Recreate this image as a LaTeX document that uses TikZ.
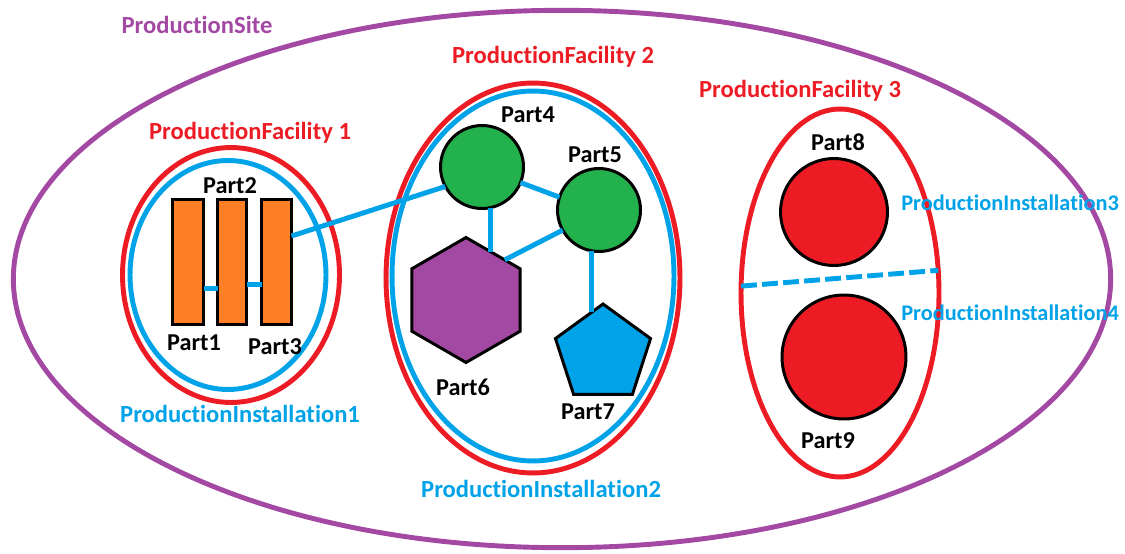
\documentclass[tikz,border=0pt]{standalone}
\usepackage{fontspec}
\setmainfont[Ligatures=NoCommon]{Carlito}
\usetikzlibrary{shapes.geometric,calc}
\definecolor{cpurple}{HTML}{A349A4}
\definecolor{cred}{HTML}{ED1C24}
\definecolor{cblue}{HTML}{00A2E8}
\definecolor{cgreen}{HTML}{22B14C}
\definecolor{corange}{HTML}{FF7F27}
\pgfdeclarelayer{bg}
\pgfsetlayers{bg,main}
\begin{document}
\begin{tikzpicture}[x=0.02cm,y=-0.02cm,
  zone/.style={ellipse, draw, line width=2.8pt, inner sep=0pt, outer sep=0pt},
  part/.style={draw=black, line width=1.7pt, inner sep=0pt, outer sep=0pt},
  conn/.style={draw=cblue, line width=2.8pt},
  lblbig/.style={font=\bfseries\fontsize{14}{16}\selectfont, inner sep=0pt},
  lblsmall/.style={font=\bfseries\fontsize{12.7}{15}\selectfont, inner sep=0pt},
  lblpart/.style={font=\bfseries\fontsize{13.8}{16}\selectfont, inner sep=0pt, text=black}]
\useasboundingbox (0,0) rectangle (1125,554);
\fill[white] (0,0) rectangle (1125,554);

% zones
\node[zone, draw=cpurple, minimum width=21.95cm, minimum height=10.75cm] (site) at (562,279) {};
\node[zone, draw=cred, minimum width=4.34cm, minimum height=5.1cm] (pf1) at (231,275) {};
\node[zone, draw=cblue, minimum width=3.92cm, minimum height=4.58cm] (pi1) at (228,275) {};
\node[zone, draw=cred, minimum width=5.88cm, minimum height=7.8cm] (pf2) at (533,278) {};
\node[zone, draw=cblue, minimum width=5.64cm, minimum height=7.4cm] (pi2) at (533,276) {};
\node[zone, draw=cred, minimum width=3.96cm, minimum height=7.36cm] (pf3) at (840,293) {};

% parts
\node[part, rectangle, fill=corange, minimum width=0.62cm, minimum height=2.5cm] (p1) at (188,262) {};
\node[part, rectangle, fill=corange, minimum width=0.58cm, minimum height=2.5cm] (p2) at (232,262) {};
\node[part, rectangle, fill=corange, minimum width=0.6cm, minimum height=2.5cm] (p3) at (276.5,262) {};
\node[part, circle, fill=cgreen, minimum size=1.66cm] (p4) at (482,167) {};
\node[part, circle, fill=cgreen, minimum size=1.66cm] (p5) at (599,210) {};
\node[part, regular polygon, regular polygon sides=6, regular polygon rotate=30, fill=cpurple, minimum size=2.5cm] (p6) at (466,300) {};
\node[part, regular polygon, regular polygon sides=5, fill=cblue, minimum size=2.0cm] (p7) at (603,354) {};
\node[part, circle, fill=cred, minimum size=2.14cm] (p8) at (834,212) {};
\node[part, circle, fill=cred, minimum size=2.48cm] (p9) at (844,357) {};

% connectors
\draw[conn] (p1.-60) -- (p1.-60 -| p2.west);
\draw[conn] (p2.-57) -- (p2.-57 -| p3.west);
\draw[conn] (p3.60) -- (p4.208);
\draw[conn] (p4.-22) -- (p5.162);
\draw[conn] (p4.-78) -- (p4.-78 |- p6.63);
\draw[conn] (p5.209) -- (p6.46);
\draw[conn] (p5.-100) -- (p5.-100 |- p7.105);
\draw[conn, dash pattern=on 9pt off 3pt] (pf3.176) -- (pf3.13);

% labels
\node[lblbig, text=cpurple] (tsite) at (197,25) {ProductionSite};
\node[lblbig, text=cred] (tpf1) at (250,133) {ProductionFacility 1};
\node[lblbig, text=cred] (tpf2) at (553,57) {ProductionFacility 2};
\node[lblbig, text=cred] (tpf3) at (800,91) {ProductionFacility 3};
\node[lblbig, text=cblue] (tpi1) at (240,414) {ProductionInstallation1};
\node[lblbig, text=cblue] (tpi2) at (541,489) {ProductionInstallation2};
\node[lblsmall, text=cblue] (tpi3) at (1010,203) {ProductionInstallation3};
\node[lblsmall, text=cblue] (tpi4) at (1010,313) {ProductionInstallation4};
\node[lblpart] (t1) at (194,343) {Part1};
\node[lblpart] (t2) at (230,186) {Part2};
\node[lblpart] (t3) at (275,347) {Part3};
\node[lblpart] (t4) at (528,115) {Part4};
\node[lblpart] (t5) at (595,155) {Part5};
\node[lblpart] (t6) at (463,387) {Part6};
\node[lblpart] (t7) at (588,412) {Part7};
\node[lblpart] (t8) at (838,142) {Part8};
\node[lblpart] (t9) at (828,441) {Part9};
\end{tikzpicture}
\end{document}
